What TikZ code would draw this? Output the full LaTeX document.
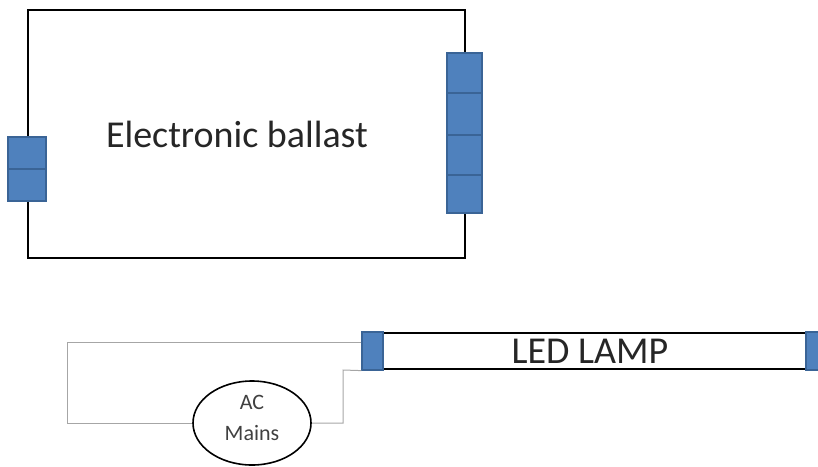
\documentclass[tikz,border=0pt]{standalone}
\usepackage{fontspec}
\setmainfont{Carlito}
\usepackage{xcolor}
\usetikzlibrary{shapes.geometric}

\definecolor{pinblue}{HTML}{4F81BD}
\definecolor{pinedge}{HTML}{3A6496}
\definecolor{wiregray}{HTML}{A6A6A6}
\definecolor{textgray}{HTML}{404040}

\tikzset{
  pin/.style={draw=pinedge, fill=pinblue, line width=1.2pt, inner sep=0pt},
  wire/.style={draw=wiregray, line width=1pt},
}

\begin{document}
\begin{tikzpicture}[x=1pt,y=-1pt]
		\useasboundingbox (0,0) rectangle (818,466);
		\draw
		node[draw, line width=2pt, minimum width=437pt, minimum height=248pt] at (246.5,134) (ballast) {}
		node[font=\fontsize{38}{42}\selectfont, text=black!85] at (237,134) (name) {Electronic ballast}
		node[pin, minimum width=38pt, minimum height=32pt] at (27,153) (in1) {}
		node[pin, minimum width=38pt, minimum height=32pt] at (27,185) (in2) {}
		node[pin, minimum width=35pt, minimum height=40pt] at (464.5,73) (out1) {}
		node[pin, minimum width=35pt, minimum height=42pt] at (464.5,114) (out2) {}
		node[pin, minimum width=35pt, minimum height=40pt] at (464.5,155) (out3) {}
		node[pin, minimum width=35pt, minimum height=38pt] at (464.5,194) (out4) {}
		node[draw, line width=2pt, minimum width=423pt, minimum height=36pt] at (594.5,351) (tube) {}
		node[font=\fontsize{38}{42}\selectfont, text=black!85] at (590,351) (led) {LED LAMP}
		node[pin, minimum width=21pt, minimum height=38pt] at (372.5,351) (lpin) {}
		node[pin, minimum width=24pt, minimum height=38pt] at (818,351) (rpin) {}
		node[draw, ellipse, line width=1.6pt, minimum width=118pt, minimum height=84pt, inner sep=0pt] at (252,423) (mains) {}
		node[align=center, text=textgray, font=\fontsize{22}{31}\selectfont] at (252,418) (mainstxt) {AC\\Mains};
		\coordinate (top) at (67,342);
		\coordinate (low) at (343,370);
		\draw[wire] (lpin.west |- top) -- (top) |- (mains.west);
		\draw[wire] (mains.east) -| (low) -- (lpin.south west);
	\end{tikzpicture}
\end{document}
